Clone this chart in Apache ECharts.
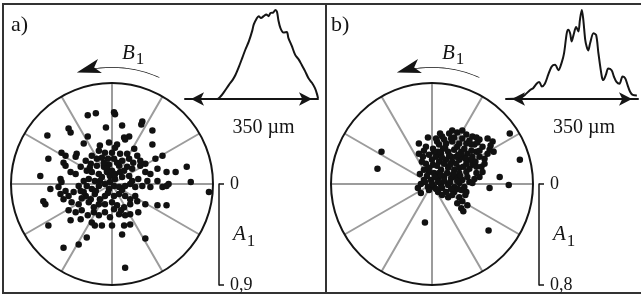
<!DOCTYPE html>
<html>
<head>
<meta charset="utf-8">
<title>Phase portraits</title>
<style>
  html, body { margin: 0; background: #fff; }
  #chart { width: 641px; height: 295px; }
</style>
</head>
<body>
<div id="chart"></div>
<script src="https://cdn.jsdelivr.net/npm/echarts@6/dist/echarts.min.js"></script>
<script>
// points of each panel, normalised to the panel's max amplitude
// x = A1 cos B1, y = A1 sin B1
var pointsA = [
  [0.02,0.71],[0.03,0.69],[-0.24,0.68],[-0.16,0.70],[-0.06,0.56],[0.10,0.58],[-0.43,0.55],[-0.41,0.51],
  [-0.64,0.48],[-0.24,0.47],[0.30,0.62],[0.29,0.59],[0.40,0.53],[0.17,0.47],[0.12,0.46],[0.13,0.44],
  [0.40,0.39],[-0.03,0.41],[-0.12,0.38],[0.05,0.39],[0.03,0.36],[-0.50,0.31],[-0.46,0.28],[-0.35,0.30],
  [-0.36,0.27],[-0.13,0.33],[-0.07,0.31],[0.00,0.31],[0.08,0.30],[0.15,0.30],[-0.20,0.28],[-0.10,0.26],
  [-0.04,0.25],[0.02,0.25],[0.10,0.23],[0.17,0.25],[0.21,0.21],[0.25,0.28],[-0.63,0.25],[0.50,0.28],
  [0.43,0.25],[-0.48,0.21],[-0.46,0.18],[-0.26,0.23],[-0.21,0.20],[-0.31,0.17],[-0.15,0.18],[-0.08,0.17],
  [-0.03,0.19],[0.07,0.18],[0.15,0.17],[0.20,0.15],[0.28,0.18],[0.33,0.20],[0.33,0.12],[0.38,0.10],
  [0.45,0.15],[0.54,0.12],[0.63,0.12],[0.74,0.17],[-0.71,0.08],[-0.51,0.05],[-0.50,0.02],[-0.41,0.12],
  [-0.36,0.10],[-0.25,0.13],[-0.20,0.12],[-0.13,0.10],[-0.10,0.07],[-0.05,0.12],[-0.02,0.08],[0.03,0.05],
  [0.10,0.07],[0.17,0.08],[0.20,0.03],[0.26,0.05],[0.35,0.03],[0.45,0.03],[0.56,0.00],[0.78,0.02],
  [0.96,-0.08],[-0.61,-0.05],[-0.53,-0.03],[-0.46,-0.07],[-0.33,-0.02],[-0.31,-0.07],[-0.25,-0.02],[-0.20,-0.05],
  [-0.13,-0.02],[-0.07,0.00],[-0.02,0.02],[0.02,-0.02],[0.07,-0.03],[-0.03,-0.05],[0.13,-0.02],[0.18,0.00],
  [0.23,-0.03],[0.30,-0.02],[0.38,-0.03],[0.50,-0.03],[0.54,-0.02],[-0.68,-0.17],[-0.66,-0.20],[-0.51,-0.10],
  [-0.48,-0.15],[-0.43,-0.12],[-0.38,-0.08],[-0.26,-0.12],[-0.21,-0.15],[-0.17,-0.10],[-0.12,-0.15],[-0.07,-0.12],
  [0.02,-0.12],[0.07,-0.10],[0.13,-0.12],[0.18,-0.15],[0.23,-0.12],[-0.40,-0.18],[-0.33,-0.20],[-0.23,-0.18],
  [-0.13,-0.20],[-0.07,-0.20],[0.00,-0.18],[0.05,-0.21],[0.12,-0.23],[0.18,-0.20],[0.25,-0.17],[0.33,-0.20],
  [0.45,-0.21],[0.54,-0.21],[-0.43,-0.26],[-0.36,-0.28],[-0.30,-0.26],[-0.18,-0.28],[-0.13,-0.31],[-0.07,-0.28],
  [0.02,-0.25],[0.07,-0.30],[0.13,-0.31],[0.18,-0.30],[0.26,-0.28],[-0.41,-0.36],[-0.31,-0.35],[-0.20,-0.38],
  [-0.17,-0.41],[-0.10,-0.41],[0.00,-0.41],[0.12,-0.41],[0.18,-0.40],[-0.63,-0.41],[-0.25,-0.53],[-0.33,-0.60],
  [-0.48,-0.63],[0.10,-0.50],[0.33,-0.54],[0.13,-0.83],[-0.05,0.15],[0.00,0.13],[-0.17,0.03],[-0.12,0.03],
  [-0.23,0.05],[-0.28,0.03],[0.03,0.10],[0.08,0.12],
  [-0.15,0.25],[-0.22,0.16],[-0.08,0.21],[0.05,0.21],[0.12,0.13],[-0.28,-0.08],[-0.16,-0.07],[-0.04,-0.09],
  [0.10,-0.06],[-0.30,-0.14],[-0.18,-0.23],[-0.02,-0.33],[0.09,-0.26],[-0.24,-0.31],[0.22,0.35],[-0.28,0.40],
  [0.28,0.23]
];
var pointsB = [
  [-0.50,0.32],[-0.54,0.15],[0.77,0.50],[0.87,0.24],[0.76,-0.01],[0.57,-0.04],[-0.07,-0.38],[0.56,-0.46],
  [0.67,0.07],[0.61,0.32],
  [-0.04,0.46],[-0.13,0.40],[0.04,0.45],[0.10,0.47],[0.17,0.50],[0.25,0.51],[0.34,0.49],[0.40,0.47],
  [0.47,0.44],[0.55,0.45],[0.60,0.42],[-0.06,0.37],[0.01,0.35],[0.07,0.39],[0.14,0.40],[0.20,0.42],
  [0.27,0.40],[0.34,0.40],[0.42,0.39],[0.50,0.37],[0.57,0.34],[0.44,0.32],[-0.03,0.29],[0.04,0.27],
  [0.09,0.30],[0.16,0.32],[0.22,0.34],[0.29,0.32],[0.35,0.30],[0.40,0.27],[0.47,0.27],[0.52,0.25],
  [-0.06,0.20],[0.01,0.19],[0.07,0.22],[0.14,0.24],[0.20,0.22],[0.27,0.24],[0.34,0.20],[0.40,0.19],
  [0.49,0.17],[0.50,0.12],[-0.03,0.12],[0.02,0.11],[0.09,0.14],[0.16,0.16],[0.22,0.14],[0.27,0.16],
  [0.34,0.12],[0.44,0.11],[0.47,0.07],[-0.08,0.04],[-0.01,0.04],[0.06,0.06],[0.12,0.07],[0.19,0.06],
  [0.24,0.07],[0.30,0.04],[0.37,0.02],[0.40,0.01],[-0.11,0.00],[-0.04,-0.03],[0.02,-0.03],[0.09,-0.01],
  [0.16,-0.01],[0.22,-0.03],[0.27,0.01],[0.32,-0.03],[-0.11,-0.09],[-0.03,-0.06],[0.06,-0.08],[0.14,-0.08],
  [0.22,-0.08],[0.29,-0.06],[0.34,-0.08],[0.16,-0.13],[0.27,-0.13],[0.30,-0.17],[0.29,-0.24],[0.35,-0.21],
  [0.24,0.27],[0.19,0.27],[0.11,0.35],[0.06,0.32],[0.30,0.27],[0.38,0.24],[-0.09,0.27],[-0.08,0.14],
  [0.39,0.39],[0.19,0.45],[0.44,0.17],[0.07,0.11],[0.27,0.11],[-0.13,0.30],
  [0.05,0.42],[0.12,0.44],[0.22,0.46],[0.30,0.45],[0.37,0.43],[0.45,0.41],[0.02,0.32],[0.13,0.36],
  [0.25,0.37],[0.32,0.35],[0.39,0.33],[0.47,0.33],[0.00,0.24],[0.10,0.26],[0.17,0.28],[0.26,0.29],
  [0.33,0.25],[0.43,0.22],[-0.03,0.16],[0.05,0.18],[0.12,0.20],[0.18,0.19],[0.24,0.20],[0.31,0.17],
  [0.37,0.15],[-0.05,0.08],[0.03,0.07],[0.09,0.09],[0.15,0.11],[0.21,0.10],[0.28,0.08],[0.35,0.07],
  [-0.07,0.02],[0.00,0.00],[0.06,0.02],[0.12,0.03],[0.18,0.02],[0.25,0.03],[0.04,-0.05],[0.10,-0.04],
  [0.19,-0.05],[0.26,-0.05],[0.10,-0.11],[0.20,-0.11],[0.25,-0.19],[0.31,-0.27],[0.33,-0.11],[0.42,0.05],
  [0.52,0.20],[0.55,0.30],[0.58,0.38],[0.44,0.46],[0.30,0.53],[0.20,0.53],[0.08,0.50],[-0.08,0.33],
  [-0.10,0.22],[-0.12,0.10],[-0.14,-0.04]
];

// line profiles across the 350 µm window (relative intensity)
var profileA = [
  [0,0],[85,0],[94,0.03],[103,0.08],[116,0.16],[125,0.21],[133,0.27],[142,0.36],[151,0.46],[159,0.55],
  [168,0.64],[177,0.76],[181,0.83],[188,0.89],[194,0.92],[200,0.90],[207,0.92],[214,0.94],[220,0.92],
  [225,0.955],[232,0.96],[238,0.99],[242,0.97],[246,0.87],[251,0.79],[259,0.74],[268,0.745],[272,0.68],
  [281,0.59],[290,0.49],[299,0.44],[307,0.38],[316,0.31],[325,0.23],[334,0.18],[342,0.12],[347,0.06],[350,0.01]
];
var profileB = [
  [0,0],[37,0.01],[50,0.045],[64,0.10],[72,0.12],[81,0.17],[88,0.19],[95,0.14],[103,0.17],[112,0.27],
  [121,0.36],[130,0.38],[139,0.32],[148,0.41],[154,0.51],[161,0.73],[165,0.77],[170,0.73],[174,0.64],
  [179,0.71],[186,0.80],[192,0.75],[196,0.88],[201,0.99],[205,0.88],[210,0.66],[214,0.58],[218,0.54],
  [223,0.62],[232,0.73],[239,0.71],[245,0.51],[254,0.25],[258,0.21],[265,0.27],[271,0.34],[280,0.32],
  [286,0.25],[293,0.19],[301,0.17],[309,0.25],[316,0.23],[322,0.16],[329,0.08],[336,0.045],[347,0.04]
];

var ampMax = [0.9, 0.8];
var ampLabels = ['0,9', '0,8'];
var panelNames = ['a)', 'b)'];
var spanName = '350 µm';
// angles (deg) of the rotation arrow above each circle
var arcAngles = [66, 69, 72, 75, 78, 81, 84, 87, 90, 93, 96, 99, 102, 104];
var arrowTip = [107.5];

var serif = 'Liberation Serif';
var ink = '#151515';
var centersX = [112, 432];
var profLeft = [185, 506];
var profWidth = [133, 132];

var myChart = echarts.init(document.getElementById('chart'), null, { renderer: 'canvas' });

var option = {
  animation: false,
  backgroundColor: '#fff',
  title: [],
  polar: [],
  angleAxis: [],
  radiusAxis: [],
  grid: [],
  xAxis: [],
  yAxis: [],
  series: [],
  graphic: [
    { type: 'rect', shape: { x: 3, y: 4, width: 323, height: 289 }, style: { fill: 'none', stroke: '#333', lineWidth: 2 } },
    { type: 'rect', shape: { x: 326, y: 4, width: 330, height: 289 }, style: { fill: 'none', stroke: '#333', lineWidth: 2 } }
  ]
};

for (var i = 0; i < 2; i++) {
  var cx = centersX[i];
  var pts = i === 0 ? pointsA : pointsB;
  var prof = i === 0 ? profileA : profileB;

  option.title.push({
    text: panelNames[i], left: cx - 101, top: 14, padding: 0,
    textStyle: { fontFamily: serif, fontSize: 22, fontWeight: 'normal', color: ink }
  });
  option.title.push({
    text: '{b|B}{s|1}', left: cx + 10, top: 41, padding: 0,
    textStyle: {
      rich: {
        b: { fontFamily: serif, fontStyle: 'italic', fontWeight: 'normal', fontSize: 21, color: ink, lineHeight: 24 },
        s: { fontFamily: serif, fontWeight: 'normal', fontSize: 17, color: ink, lineHeight: 24, padding: [14, 0, 0, 1] }
      }
    }
  });

  // circle with spokes, and a wider polar for the rotation arrow
  option.polar.push({ center: [cx, 184], radius: 101 });
  option.polar.push({ center: [cx, 184], radius: 117 });
  option.angleAxis.push({
    polarIndex: 2 * i, type: 'value', min: 0, max: 360, interval: 30, startAngle: 0, clockwise: false,
    axisLine: { lineStyle: { color: ink, width: 2 } },
    axisTick: { show: false }, axisLabel: { show: false },
    splitLine: { show: true, lineStyle: { color: '#9c9c9c', width: 2 } }
  });
  option.angleAxis.push({
    polarIndex: 2 * i + 1, type: 'value', min: 0, max: 360, startAngle: 0, clockwise: false, show: false
  });
  option.radiusAxis.push({ polarIndex: 2 * i, min: 0, max: 1, show: false });
  option.radiusAxis.push({ polarIndex: 2 * i + 1, min: 0, max: 1, show: false });

  option.series.push({
    type: 'line', coordinateSystem: 'polar', polarIndex: 2 * i + 1, clip: false,
    data: arcAngles.map(function (a) { return [1, a]; }),
    showSymbol: false, smooth: true, lineStyle: { color: ink, width: 1.5 }
  });
  option.series.push({
    type: 'scatter', coordinateSystem: 'polar', polarIndex: 2 * i + 1, clip: false,
    data: arrowTip.map(function (a) { return [1, a]; }),
    symbol: 'arrow', symbolSize: [11, 24], symbolRotate: arrowTip[0] - 2,
    itemStyle: { color: ink, opacity: 1 }
  });

  // grid 3i: dots, 3i+1: profile, 3i+2: amplitude bar
  option.grid.push({ left: cx - 101, top: 83, width: 202, height: 202, outerBoundsMode: 'none' });
  option.grid.push({ left: profLeft[i], top: 9, width: profWidth[i], height: 90, outerBoundsMode: 'none' });
  option.grid.push({ left: cx + 107, top: 184, width: 5, height: 101, outerBoundsMode: 'none' });

  option.xAxis.push({ gridIndex: 3 * i, type: 'value', min: -1, max: 1, show: false });
  option.yAxis.push({ gridIndex: 3 * i, type: 'value', min: -1, max: 1, show: false });

  option.xAxis.push({
    gridIndex: 3 * i + 1, type: 'value', min: 0, max: 350, offset: 13,
    axisLine: { show: true, symbol: ['arrow', 'arrow'], symbolSize: [10, 13], symbolOffset: [6, -6],
      lineStyle: { color: ink, width: 2 } },
    axisTick: { show: false }, axisLabel: { show: false }, splitLine: { show: false },
    name: spanName, nameLocation: 'middle', nameGap: 6, nameMoveOverlap: false,
    nameTextStyle: { fontFamily: serif, fontSize: 20, color: ink, verticalAlign: 'top', padding: [0, 0, 0, 24] }
  });
  option.yAxis.push({ gridIndex: 3 * i + 1, type: 'value', min: 0, max: 1, show: false });

  option.xAxis.push({ gridIndex: 3 * i + 2, type: 'value', show: false });
  option.yAxis.push({
    gridIndex: 3 * i + 2, type: 'value', position: 'right', inverse: true,
    min: 0, max: ampMax[i], interval: ampMax[i],
    axisLine: { show: true, lineStyle: { color: ink, width: 1.5 } },
    axisTick: { show: true, length: 5, lineStyle: { color: ink, width: 1.5 } },
    axisLabel: {
      margin: 6, fontFamily: serif, fontSize: 18, color: ink,
      formatter: (function (lab) { return function (v) { return v === 0 ? '0' : lab; }; })(ampLabels[i])
    },
    splitLine: { show: false },
    name: '{a|A}{s|1}', nameLocation: 'middle', nameRotate: 0, nameGap: 9, nameMoveOverlap: false,
    nameTextStyle: {
      rich: {
        a: { fontFamily: serif, fontStyle: 'italic', fontSize: 21, color: ink, lineHeight: 24 },
        s: { fontFamily: serif, fontSize: 17, color: ink, lineHeight: 24, padding: [14, 0, 0, 1] }
      }
    }
  });
  option.yAxis.push({
    gridIndex: 3 * i + 2, type: 'value', position: 'right', inverse: true,
    min: 0, max: ampMax[i], interval: ampMax[i],
    axisLine: { show: false },
    axisTick: { show: true, inside: true, length: 5, lineStyle: { color: ink, width: 1.5 } },
    axisLabel: { show: false }, splitLine: { show: false }
  });

  option.series.push({
    type: 'scatter', xAxisIndex: 3 * i, yAxisIndex: 4 * i,
    data: pts, symbolSize: 6.5, itemStyle: { color: '#111', opacity: 1 }, z: 5
  });
  option.series.push({
    type: 'line', xAxisIndex: 3 * i + 1, yAxisIndex: 4 * i + 1,
    data: prof, showSymbol: false, smooth: 0.3,
    lineStyle: { color: ink, width: 2 }
  });
}

myChart.setOption(option);
</script>
</body>
</html>
